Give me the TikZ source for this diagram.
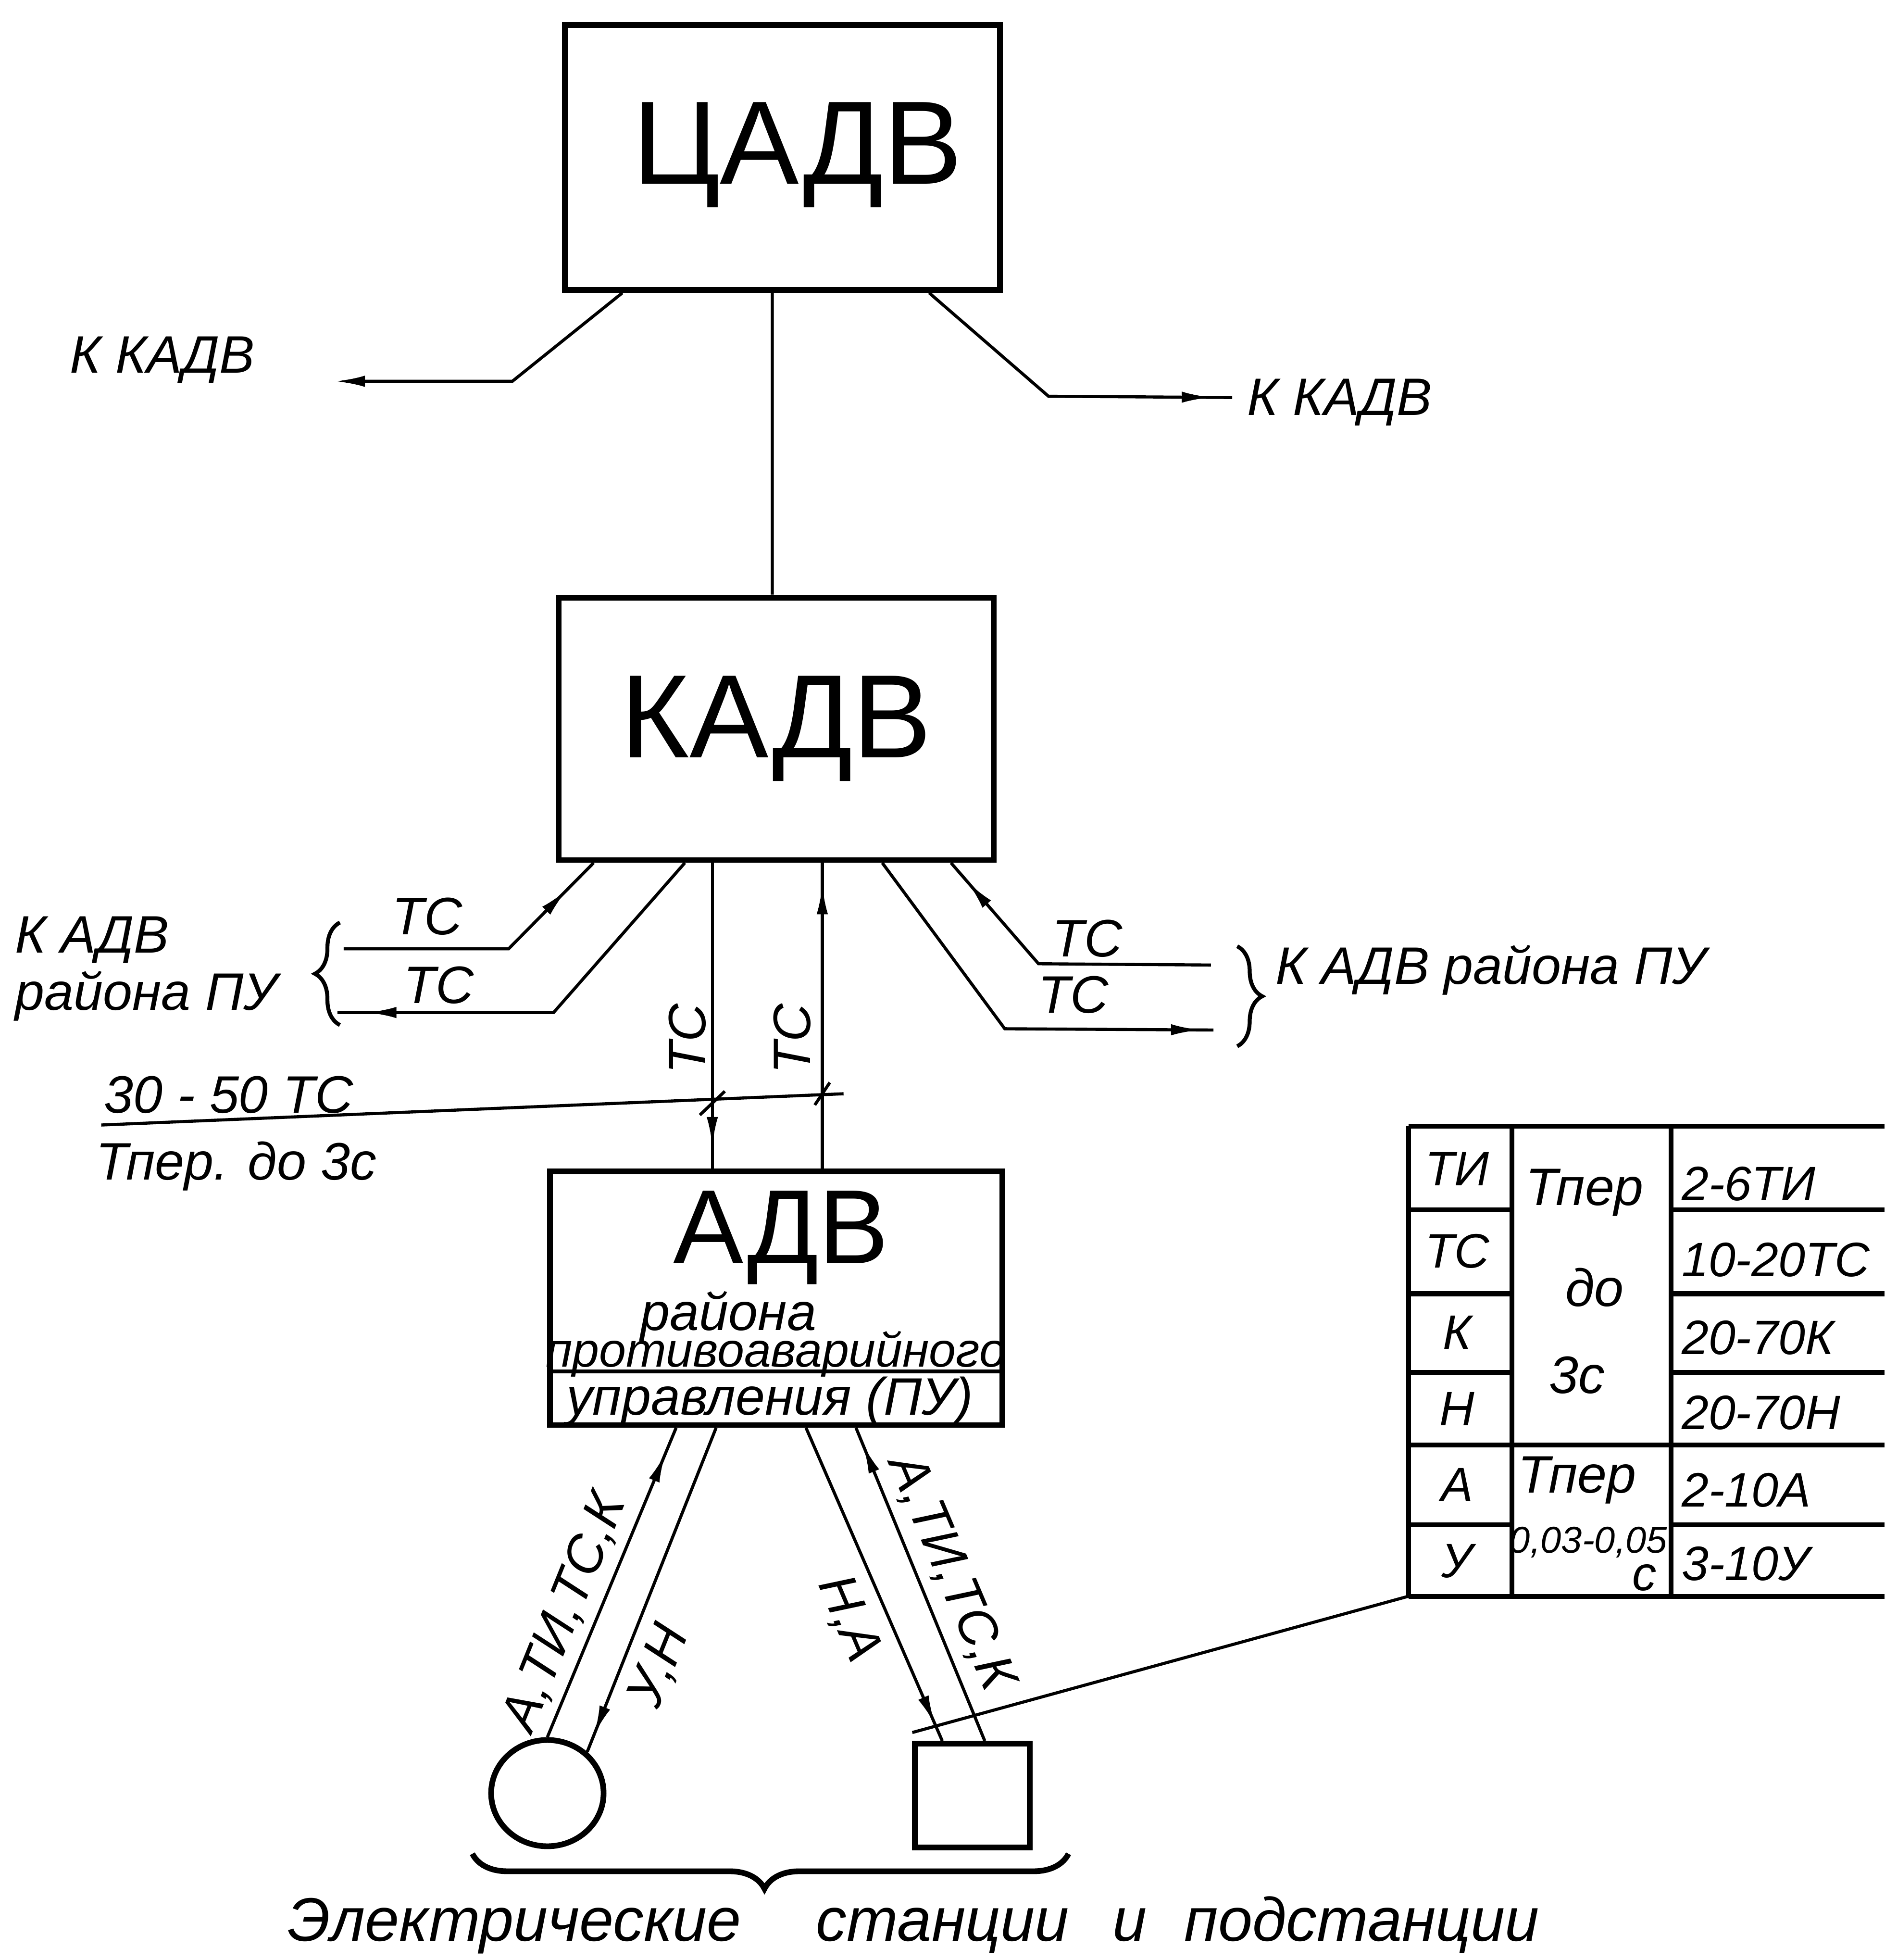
\documentclass[tikz,border=0pt]{standalone}
\usepackage{fontspec}
\setmainfont{Liberation Sans}
\usetikzlibrary{arrows.meta,decorations.pathreplacing,decorations.markings,shapes.geometric}

\begin{document}
\begin{tikzpicture}[x=0.1mm, y=-0.1mm,
	blok/.style={draw, line width=1.3pt, inner sep=0pt},
	svyaz/.style={line width=0.7pt},
	konec/.style={-{Latex[length=2.4mm,width=0.9mm]}},
	strelka/.style={postaction={decorate,decoration={markings,
			mark=at position #1 with {\arrow{Latex[length=2.4mm,width=0.9mm]}}}}},
	nadp/.style={font=\itshape\fontsize{12}{13}\selectfont, inner sep=1pt},
	tabl/.style={font=\itshape\fontsize{11}{13}\selectfont, inner sep=0pt},
	bukvy/.style={font=\fontsize{27}{29}\selectfont}]
	
	\useasboundingbox (0,0) rectangle (1508,1568);
	
	% --- blocks ---
	\node[blok, minimum width=34.8mm, minimum height=21.2mm] (cadv) at (626,126) {};
	\node[bukvy] (cadvt) at (638,124) {ЦАДВ};
	\node[blok, bukvy, minimum width=34.8mm, minimum height=21.0mm] (kadv) at (621,583) {КАДВ};
	\node[blok, minimum width=36.2mm, minimum height=20.3mm] (adv) at (621,1038.5) {};
	
	% text inside the lower block
	\node[bukvy, font=\fontsize{24}{26}\selectfont] (advt) at (625,990) {АДВ};
	\node[nadp] (raion) at (583,1053) {района};
	\node[nadp, font=\itshape\fontsize{11}{12}\selectfont] (protiv) at (621,1083) {противоаварийного};
	\node[nadp] (upr) at (616,1121) {управления (ПУ)};
	\coordinate (lin) at (0,1097);
	\draw[line width=0.9pt] (adv.west |- lin) -- (adv.east |- lin);
	
	% --- upper level ---
	\coordinate (klev) at (268,305);
	\coordinate (kprav) at (986,318);
	\draw[svyaz, konec] ([xshift=-12.8mm]cadv.south) -- (410,305) -- (klev);
	\draw[svyaz, strelka=0.94] ([xshift=11.75mm]cadv.south) -- (839,317) -- (kprav);
	\draw[svyaz] ([xshift=-0.8mm]cadv.south) -- ([xshift=-0.3mm]kadv.north);
	\node[nadp] (kk1) at (130,288) {К КАДВ};
	\node[nadp] (kk2) at (1072,322) {К КАДВ};
	
	% --- middle level ---
	\coordinate (l1) at (275,759);
	\coordinate (l2) at (270,810);
	\coordinate (r1) at (969,772);
	\coordinate (r2) at (971,824);
	\draw[svyaz, strelka=0.87] (l1) -- (407,759) -- ([xshift=-14.6mm]kadv.south);
	\draw[svyaz, strelka=0.93] ([xshift=-7.3mm]kadv.south) -- (443,810) -- (l2);
	\draw[svyaz, strelka=0.92] (r1) -- (831,771) -- ([xshift=14mm]kadv.south);
	\draw[svyaz, strelka=0.97] ([xshift=8.5mm]kadv.south) -- (804,823) -- (r2);
	\draw[svyaz, strelka=0.93] ([xshift=-5.1mm]kadv.south) -- ([xshift=-5.1mm]adv.north);
	\draw[svyaz, strelka=0.93] ([xshift=3.7mm]adv.north) -- ([xshift=3.7mm]kadv.south);
	
	\node[nadp] (ts1) at (342,733) {ТС};
	\node[nadp] (ts2) at (351,788) {ТС};
	\node[nadp] (ts3) at (870,751) {ТС};
	\node[nadp] (ts4) at (859,796) {ТС};
	\node[nadp, rotate=90] (ts5) at (550,831) {ТС};
	\node[nadp, rotate=90] (ts6) at (634,831) {ТС};
	
	% braces at the sides
	\draw[line width=0.9pt, decorate, decoration={brace, amplitude=2mm}] (272,820) -- (272,738);
	\node[nadp, align=left, anchor=west] (kadvl) at (8,775) {К АДВ\\района ПУ};
	\draw[line width=0.9pt, decorate, decoration={brace, amplitude=2mm}] (990,757) -- (990,837);
	\node[nadp] (kadvr) at (1193,776) {К АДВ района ПУ};
	
	% fraction line across the two verticals
	\coordinate (dl) at (81,900);
	\coordinate (dr) at (675,875);
	\draw[svyaz] (dl) -- (dr);
	\draw[svyaz] (560,892) -- (580,873);
	\draw[svyaz] (652,884) -- (664,866);
	\node[nadp] (kolvo) at (183,876) {30 - 50 ТС};
	\node[nadp] (tper) at (189,933) {Тпер. до 3с};
	
	% --- lower level ---
	\node[draw, ellipse, line width=1.3pt, minimum width=9mm, minimum height=8.5mm, inner sep=0pt] (es) at (438,1434.5) {};
	\node[blok, minimum width=9.2mm, minimum height=8.3mm] (ps) at (778,1436.5) {};
	
	\draw[svyaz, strelka=0.92] (es.north) -- ([xshift=-8mm]adv.south);
	\draw[svyaz, strelka=0.95] ([xshift=-4.8mm]adv.south) -- (es.46);
	\draw[svyaz, strelka=0.95] ([xshift=2.4mm]adv.south) -- ([xshift=-2.4mm]ps.north);
	\draw[svyaz, strelka=0.95] ([xshift=1mm]ps.north) -- ([xshift=6.4mm]adv.south);
	
	\node[nadp, rotate=68] (la1) at (452,1290) {А,ТИ,ТС,К};
	\node[nadp, rotate=68] (lun) at (528,1333) {У,Н};
	\node[nadp, rotate=-67] (lna) at (679,1295) {Н,А};
	\node[nadp, rotate=-67] (la2) at (761,1258) {А,ТИ,ТС,К};
	
	\draw[line width=1.3pt, decorate, decoration={brace, amplitude=2.8mm, aspect=0.51}] (855,1483) -- (378,1483);
	\node[font=\itshape\fontsize{14}{16}\selectfont] (stan) at (731,1540) {Электрические\hspace{6mm}станции\hspace{3.5mm}и\hspace{3mm}подстанции};
	
	% --- table ---
	\draw[line width=1.1pt] (1127,901) -- (1508,901);
	\draw[line width=1.1pt] (1127,1277) -- (1508,1277);
	\foreach \x in {1127,1210,1337}{
		\draw[line width=1.1pt] (\x,901) -- (\x,1277);
	}
	\foreach \y in {968,1035,1098,1156,1220}{
		\draw[line width=1.1pt] (1127,\y) -- (1210,\y);
		\draw[line width=1.1pt] (1337,\y) -- (1508,\y);
	}
	\draw[line width=1.1pt] (1210,1156) -- (1337,1156);
	
	\foreach \y/\t [count=\i] in {935/ТИ, 1001/ТС, 1066/К, 1127/Н, 1188/А, 1249/У}{
		\node[tabl] (vid\i) at (1166,\y) {\t};
	}
	\foreach \y/\t [count=\i] in {947/2-6ТИ, 1008/10-20ТС, 1070/20-70К, 1130/20-70Н, 1192/2-10А, 1251/3-10У}{
		\node[tabl, anchor=west] (chis\i) at (1345,\y) {\t};
	}
	\node[tabl, font=\itshape\fontsize{12}{13}\selectfont] (tp1) at (1268,954) {Тпер};
	\node[tabl, font=\itshape\fontsize{12}{13}\selectfont] (do) at (1276,1030) {до};
	\node[tabl, font=\itshape\fontsize{12}{13}\selectfont] (tris) at (1262,1100) {3с};
	\node[tabl, font=\itshape\fontsize{12}{13}\selectfont] (tp2) at (1262,1184) {Тпер};
	\node[tabl, font=\itshape\fontsize{8.5}{9}\selectfont] (vr) at (1271,1234) {0,03-0,05};
	\node[tabl] (sek) at (1316,1262) {с};
	
	% pointer from the table
	\coordinate (tabl) at (1127,1277);
	\coordinate (ukaz) at (730,1386);
	\draw[svyaz] (tabl) -- (ukaz);
	
\end{tikzpicture}
\end{document}
